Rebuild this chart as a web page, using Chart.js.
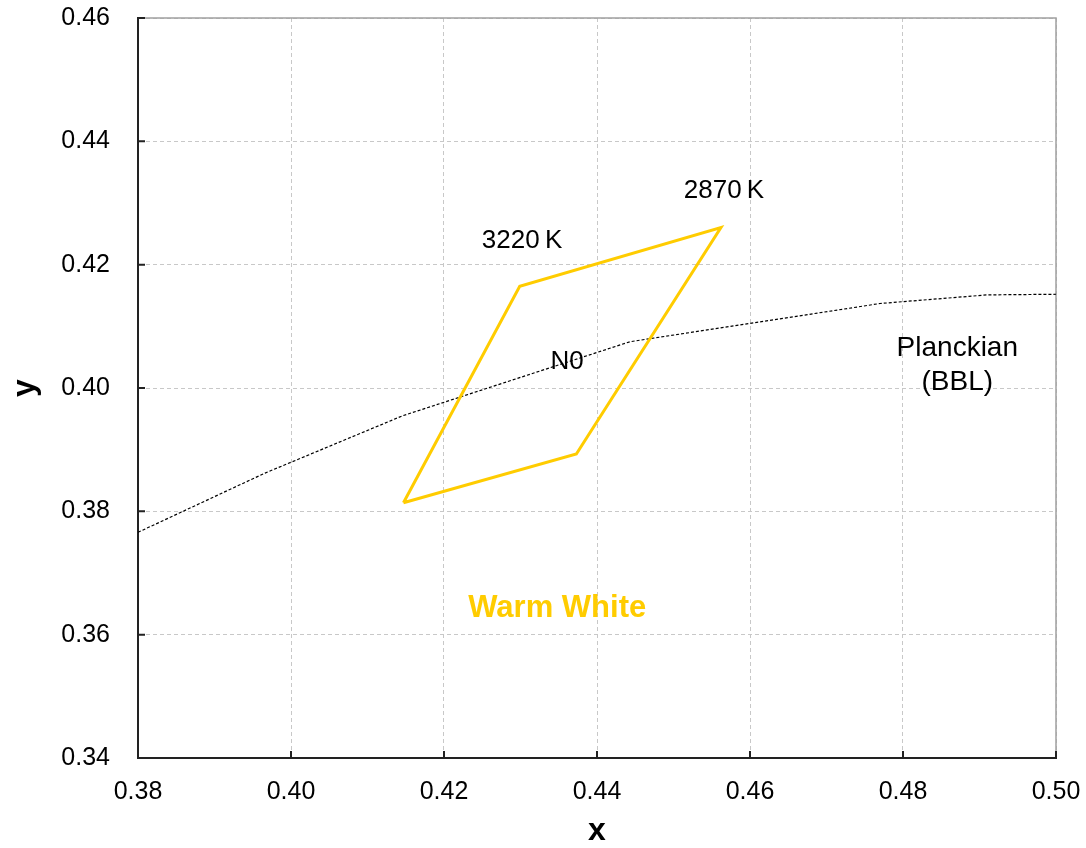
<!DOCTYPE html>
<html>
<head>
<meta charset="utf-8">
<script src="https://cdn.jsdelivr.net/npm/chart.js@4/dist/chart.umd.min.js"></script>
<style>
  html, body { margin: 0; padding: 0; background: #fff; }
  canvas { display: block; }
</style>
</head>
<body>
<canvas id="chart" width="1086" height="848"></canvas>
<script>
// ANSI quadrangle (closed polygon)
const quadX = [0.4147, 0.4299, 0.4562, 0.4373, 0.4147];
const quadY = [0.3814, 0.4165, 0.4260, 0.3893, 0.3814];

// Planckian locus (BBL)
const bblX = [0.3800, 0.3966, 0.4146, 0.4443, 0.4770, 0.4910, 0.5000];
const bblY = [0.3766, 0.3862, 0.3955, 0.4075, 0.4137, 0.4151, 0.4152];

// tick labels
const xTicks = ["0.38", "0.40", "0.42", "0.44", "0.46", "0.48", "0.50"];
const yTicks = ["0.34", "0.36", "0.38", "0.40", "0.42", "0.44", "0.46"];

// text notes placed in data units
const noteText = ["3220\u2009K", "2870\u2009K", "N0", "Planckian", "(BBL)", "Warm White"];
const noteX = [0.4302, 0.4566, 0.4361, 0.4871, 0.4871, 0.4348];
const noteY = [0.4239, 0.4319, 0.4043, 0.4064, 0.4009, 0.3642];

const gold = "#FFCC00";
const font = "'Liberation Sans', Arial, sans-serif";

function toPoints(xs, ys) {
  return xs.map((x, i) => ({ x: x, y: ys[i] }));
}

// frame on top/right, inward tick marks and the text notes
const extras = {
  id: "extras",
  beforeDatasetsDraw(chart) {
    const { ctx, chartArea: a, scales } = chart;
    ctx.save();
    ctx.strokeStyle = "#a0a0a0";
    ctx.lineWidth = 1.5;
    ctx.beginPath();
    ctx.moveTo(a.left, a.top);
    ctx.lineTo(a.right, a.top);
    ctx.lineTo(a.right, a.bottom);
    ctx.stroke();

    ctx.strokeStyle = "#222";
    ctx.lineWidth = 2;
    ctx.beginPath();
    xTicks.forEach((t) => {
      const px = scales.x.getPixelForValue(parseFloat(t));
      ctx.moveTo(px, a.bottom);
      ctx.lineTo(px, a.bottom - 7);
    });
    yTicks.forEach((t) => {
      const py = scales.y.getPixelForValue(parseFloat(t));
      ctx.moveTo(a.left, py);
      ctx.lineTo(a.left + 7, py);
    });
    ctx.stroke();
    ctx.restore();
  },
  afterDatasetsDraw(chart) {
    const { ctx, scales } = chart;
    ctx.save();
    ctx.textAlign = "center";
    ctx.textBaseline = "middle";
    noteText.forEach((t, i) => {
      const px = scales.x.getPixelForValue(noteX[i]);
      const py = scales.y.getPixelForValue(noteY[i]);
      if (t === "Warm White") {
        ctx.font = "bold 31px " + font;
        ctx.fillStyle = gold;
      } else if (t === "Planckian" || t === "(BBL)") {
        ctx.font = "28px " + font;
        ctx.fillStyle = "#000";
      } else {
        ctx.font = "26px " + font;
        ctx.fillStyle = "#000";
      }
      ctx.fillText(t, px, py);
    });
    ctx.restore();
  }
};

new Chart(document.getElementById("chart"), {
  type: "scatter",
  data: {
    datasets: [
      {
        label: "Warm White",
        data: toPoints(quadX, quadY),
        showLine: true,
        borderColor: gold,
        borderWidth: 3,
        pointRadius: 0,
        fill: false,
        tension: 0
      },
      {
        label: "Planckian (BBL)",
        data: toPoints(bblX, bblY),
        showLine: true,
        borderColor: "#000",
        borderWidth: 1.2,
        borderDash: [3, 2],
        pointRadius: 0,
        fill: false,
        tension: 0
      }
    ]
  },
  options: {
    responsive: false,
    animation: false,
    layout: { padding: { top: 18, right: 30, bottom: 0, left: 0 } },
    plugins: {
      legend: { display: false },
      tooltip: { enabled: false }
    },
    scales: {
      x: {
        type: "linear",
        min: 0.38,
        max: 0.50,
        afterBuildTicks: (scale) => {
          scale.ticks = xTicks.map((t) => ({ value: parseFloat(t), label: t }));
        },
        afterFit: (scale) => {
          scale.height = 90;
          scale.paddingLeft = 0;
          scale.paddingRight = 0;
        },
        ticks: {
          color: "#000",
          font: { family: font, size: 25 },
          padding: 19,
          maxRotation: 0,
          callback: (v, i) => xTicks[i]
        },
        grid: { color: "#c8c8c8", lineWidth: 1, drawTicks: false },
        border: { display: true, color: "#222", width: 2, dash: [4, 3] },
        title: {
          display: true,
          text: "x",
          color: "#000",
          font: { family: font, size: 32, weight: "bold" },
          padding: { top: 0, bottom: -2 }
        }
      },
      y: {
        type: "linear",
        min: 0.34,
        max: 0.46,
        afterBuildTicks: (scale) => {
          scale.ticks = yTicks.map((t) => ({ value: parseFloat(t), label: t }));
        },
        afterFit: (scale) => {
          scale.width = 138;
          scale.paddingTop = 0;
          scale.paddingBottom = 0;
        },
        ticks: {
          color: "#000",
          font: { family: font, size: 25 },
          padding: 28,
          callback: (v, i) => yTicks[i]
        },
        grid: { color: "#c8c8c8", lineWidth: 1, drawTicks: false },
        border: { display: true, color: "#222", width: 2, dash: [4, 3] },
        title: {
          display: true,
          text: "y",
          color: "#000",
          font: { family: font, size: 32, weight: "bold" },
          padding: { top: 6, bottom: 0 }
        }
      }
    }
  },
  plugins: [extras]
});
</script>
</body>
</html>
